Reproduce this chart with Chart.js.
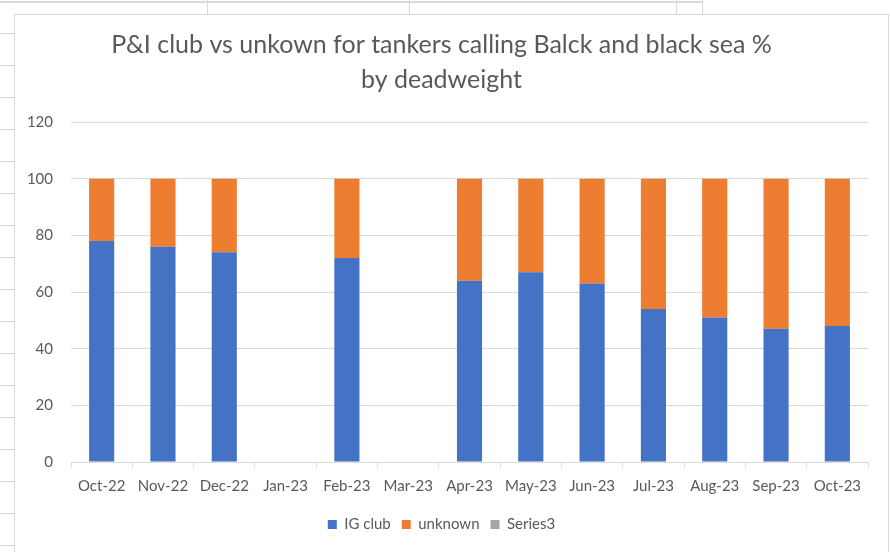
<!DOCTYPE html>
<html lang="en">
<head>
    <meta charset="UTF-8">
    <title>P&I club vs unkown</title>
    <script src="https://cdn.jsdelivr.net/npm/chart.js"></script>
    <style>
        body { margin: 0; background: #fff; width: 890px; height: 552px; overflow: hidden; position: relative; }
        .celula { position: absolute; background: #d9d9d9; }
        .grafico {
            position: absolute; left: 14px; top: 14px; width: 875px; height: 545px;
            border: 1px solid #d9d9d9; background: #fff; box-sizing: border-box;
        }
        .grafico canvas { position: absolute; left: 0; top: 0; }
    </style>
</head>
<body>
    <div id="planilha"></div>
    <div class="grafico">
        <canvas id="chartBar" width="873" height="543"></canvas>
    </div>
</body>
</html>
<script>
    const meses = ['Oct-22', 'Nov-22', 'Dec-22', 'Jan-23', 'Feb-23', 'Mar-23', 'Apr-23', 'May-23', 'Jun-23', 'Jul-23', 'Aug-23', 'Sep-23', 'Oct-23']
    const igClub = [78, 76, 74, null, 72, null, 64, 67, 63, 54, 51, 47, 48]
    const unknown = [22, 24, 26, null, 28, null, 36, 33, 37, 46, 49, 53, 52]
    const series3 = [null, null, null, null, null, null, null, null, null, null, null, null, null]
    const ticksY = [0, 20, 40, 60, 80, 100, 120]

    // linhas da planilha atras do grafico
    const planilha = document.getElementById('planilha')
    function linha(x, y, w, h) {
        const d = document.createElement('div')
        d.className = 'celula'
        d.style.left = x + 'px'
        d.style.top = y + 'px'
        d.style.width = w + 'px'
        d.style.height = h + 'px'
        planilha.appendChild(d)
    }
    for (let y = 33; y < 552; y += 32) {
        linha(0, y, 14, 1)
    }
    linha(0, 1, 703, 2)
    linha(207, 0, 1, 14)
    linha(409, 0, 1, 14)
    linha(676, 0, 1, 14)
    linha(702, 0, 1, 14)

    const cinza = '#595959'
    const fonte = "Lato, 'Open Sans', sans-serif"

    const ctx = document.getElementById('chartBar')

    const chart1 = new Chart(ctx, {
        type: 'bar',
        data: {
            labels: meses,
            datasets: [
                { label: 'IG club', data: igClub, backgroundColor: '#4472C4', borderWidth: 0 },
                { label: 'unknown', data: unknown, backgroundColor: '#ED7D31', borderWidth: 0 },
                { label: 'Series3', data: series3, backgroundColor: '#A5A5A5', borderWidth: 0 }
            ]
        },
        options: {
            responsive: false,
            animation: false,
            devicePixelRatio: 1,
            categoryPercentage: 1,
            barPercentage: 0.41,
            layout: {
                padding: { left: 0, right: 20, top: 0, bottom: 16 }
            },
            plugins: {
                title: {
                    display: true,
                    text: ['P&I club vs unkown for tankers calling Balck and black sea %', 'by deadweight'],
                    color: cinza,
                    font: { family: fonte, size: 25, weight: 'normal', lineHeight: 1.4 },
                    padding: { top: 12, bottom: 25 }
                },
                legend: {
                    position: 'bottom',
                    labels: {
                        color: cinza,
                        boxWidth: 9,
                        boxHeight: 9,
                        padding: 11,
                        font: { family: fonte, size: 15 }
                    }
                },
                tooltip: { enabled: false }
            },
            scales: {
                x: {
                    stacked: true,
                    afterFit: (scale) => {
                        scale.height = 44
                    },
                    grid: {
                        offset: true,
                        drawOnChartArea: false,
                        drawTicks: true,
                        tickLength: 5,
                        color: '#d9d9d9'
                    },
                    border: { color: '#d9d9d9', width: 1 },
                    ticks: {
                        color: cinza,
                        padding: 10,
                        maxRotation: 0,
                        autoSkip: false,
                        font: { family: fonte, size: 15 }
                    }
                },
                y: {
                    stacked: true,
                    min: 0,
                    max: 120,
                    afterBuildTicks: (scale) => {
                        scale.ticks = ticksY.map((v) => ({ value: v }))
                    },
                    afterFit: (scale) => {
                        scale.width = 56
                    },
                    grid: {
                        color: '#d9d9d9',
                        drawTicks: false
                    },
                    border: { display: false },
                    ticks: {
                        color: cinza,
                        padding: 18,
                        font: { family: fonte, size: 15 }
                    }
                }
            }
        }
    })
</script>
